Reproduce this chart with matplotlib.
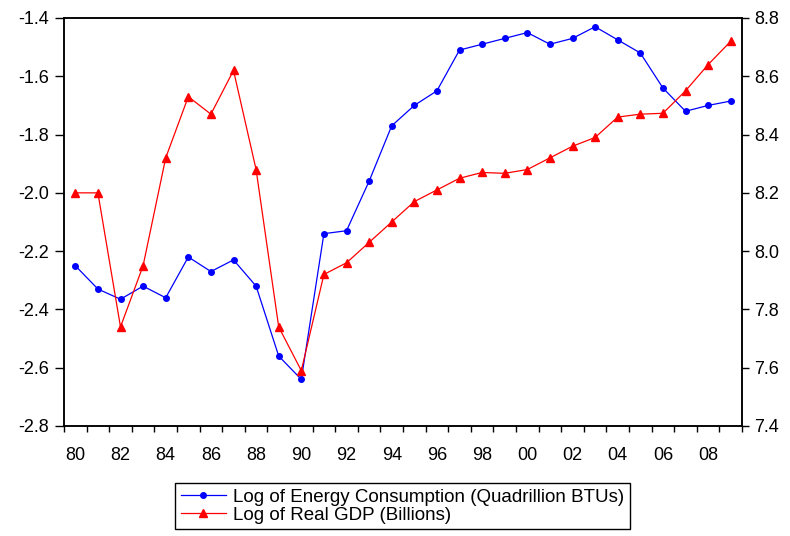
import matplotlib.pyplot as plt
from matplotlib.ticker import FixedLocator

plt.rcParams['font.family'] = ['Liberation Sans', 'DejaVu Sans']

years = list(range(1980, 2010))

# log of energy consumption (left axis)
energy = [-2.25, -2.33, -2.365, -2.32, -2.36, -2.22, -2.27, -2.23, -2.32, -2.56,
          -2.64, -2.14, -2.13, -1.96, -1.77, -1.70, -1.65, -1.51, -1.49, -1.47,
          -1.45, -1.49, -1.47, -1.43, -1.475, -1.52, -1.64, -1.72, -1.70, -1.685]

# log of real GDP (right axis)
gdp = [8.20, 8.20, 7.74, 7.95, 8.32, 8.53, 8.47, 8.62, 8.28, 7.74,
       7.59, 7.92, 7.96, 8.03, 8.10, 8.17, 8.21, 8.25, 8.27, 8.267,
       8.28, 8.32, 8.36, 8.39, 8.46, 8.47, 8.473, 8.55, 8.64, 8.72]

left_ticks = [-2.8, -2.6, -2.4, -2.2, -2.0, -1.8, -1.6, -1.4]
right_ticks = [7.4, 7.6, 7.8, 8.0, 8.2, 8.4, 8.6, 8.8]
year_labels = ['80', '82', '84', '86', '88', '90', '92', '94', '96', '98',
               '00', '02', '04', '06', '08']

fig = plt.figure(figsize=(7.9, 5.36), dpi=100)
ax = fig.add_axes([64 / 790, 1 - 426 / 536, (742 - 64) / 790, (426 - 18) / 536])
ax2 = ax.twinx()

l1, = ax.plot(years, energy, color='#0000ff', lw=0.9, marker='o', ms=4,
              label='Log of Energy Consumption (Quadrillion BTUs)')
l2, = ax2.plot(years, gdp, color='#ff0000', lw=0.9, marker='^', ms=6,
               label='Log of Real GDP (Billions)')

ax.set_xlim(1979.5, 2009.5)
ax.set_ylim(-2.8, -1.4)
ax2.set_ylim(7.4, 8.8)

ax.set_yticks(left_ticks)
ax.set_yticklabels(['%.1f' % v for v in left_ticks])
ax2.set_yticks(right_ticks)
ax2.set_yticklabels(['%.1f' % v for v in right_ticks])

# tick marks on year boundaries, labels on even years
ax.xaxis.set_major_locator(FixedLocator([y + 0.5 for y in range(1979, 2010)]))
ax.xaxis.set_major_formatter(plt.NullFormatter())
ax.set_xticks(years[::2], minor=True)
ax.set_xticklabels(year_labels, minor=True)
ax.tick_params(axis='x', which='major', length=4.5, width=1, direction='out')
ax.tick_params(axis='x', which='minor', length=0, pad=15, labelsize=13)
ax.tick_params(axis='y', length=6.5, width=1, pad=4, labelsize=13)
ax2.tick_params(axis='y', length=5, width=1, pad=3.5, labelsize=13)

for a in (ax, ax2):
    for s in a.spines.values():
        s.set_linewidth(1.1)

leg = fig.legend(handles=[l1, l2], loc='upper left',
                 bbox_to_anchor=(175 / 790, 1 - 483 / 536),
                 borderaxespad=0, fancybox=False, edgecolor='black',
                 framealpha=1, fontsize=13.5, handlelength=2.4,
                 handletextpad=0.4, labelspacing=0.05, borderpad=0.3)
leg.get_frame().set_linewidth(1.0)

fig.savefig('out.png', dpi=100)
